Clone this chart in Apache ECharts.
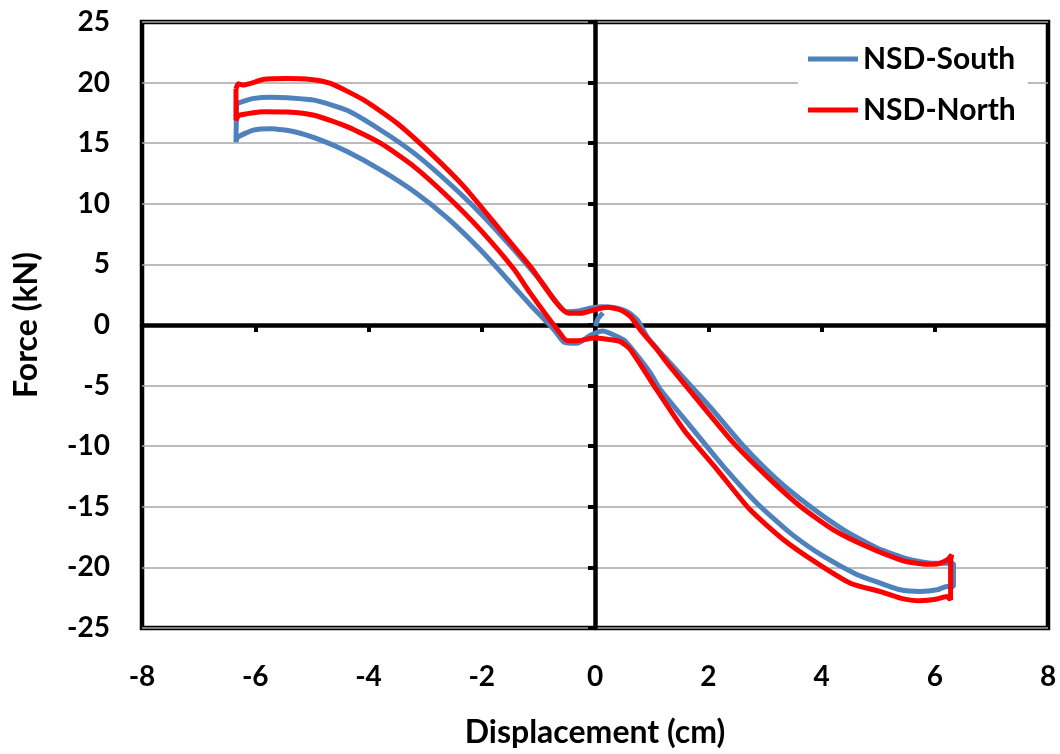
<!DOCTYPE html>
<html>
<head>
<meta charset="utf-8">
<script src="https://cdn.jsdelivr.net/npm/echarts@6/dist/echarts.min.js"></script>
<style>
  html, body { margin: 0; padding: 0; background: #fff; }
  #chart { width: 1060px; height: 754px; }
</style>
</head>
<body>
<div id="chart"></div>
<script>
// ---- data ----
const xTicks = [-8, -6, -4, -2, 0, 2, 4, 6, 8];
const yTicks = [-25, -20, -15, -10, -5, 0, 5, 10, 15, 20, 25];
const seriesNames = ['NSD-South', 'NSD-North'];

// NSD-South loop: upper branch left->right, right edge down, lower branch right->left, close
const southLoop = [
  [-6.33, 18.2], [-6.28, 18.35], [-6.02, 18.7], [-5.72, 18.8], [-5.43, 18.75], [-4.96, 18.55],
  [-4.37, 17.7], [-3.78, 16.07], [-3.19, 14.16], [-2.60, 11.8], [-2.02, 9.2], [-1.43, 6.2],
  [-0.95, 3.6], [-0.5, 1.1], [-0.3, 1.15], [-0.11, 1.37], [0.1, 1.5], [0.33, 1.45],
  [0.57, 1.1], [0.75, 0.4], [0.92, -0.96], [1.22, -2.6], [1.63, -4.7], [2.04, -6.8],
  [2.63, -10.03], [3.22, -12.78], [3.80, -14.98], [4.39, -16.9], [4.98, -18.4], [5.57, -19.37],
  [5.98, -19.65], [6.27, -19.65], [6.33, -19.65],
  [6.33, -21.6], [6.21, -21.57], [6.04, -21.85], [5.74, -21.98], [5.39, -21.85], [5.04, -21.3],
  [4.63, -20.6], [4.04, -19.1], [3.45, -17.17], [2.86, -14.7], [2.27, -11.68], [1.69, -8.38],
  [1.16, -5.36], [0.98, -3.98], [0.69, -2.2], [0.51, -1.24], [0.33, -0.82], [0.14, -0.5],
  [-0.08, -0.85], [-0.31, -1.5], [-0.55, -1.4], [-0.72, -0.41], [-1.14, 1.65], [-1.43, 3.16],
  [-2.02, 6.18], [-2.60, 8.80], [-3.19, 10.99], [-3.78, 12.78], [-4.37, 14.29], [-4.84, 15.25],
  [-5.31, 15.94], [-5.72, 16.2], [-6.02, 16.1], [-6.31, 15.5], [-6.34, 15.1], [-6.33, 18.2],
  ['-', '-'], [0.01, -0.1], [0.05, 0.5], [0.14, 1.0]
];

// NSD-North loop
const northLoop = [
  [-6.34, 19.5], [-6.3, 19.9], [-6.22, 19.8], [-5.84, 20.28], [-5.43, 20.34], [-5.02, 20.26],
  [-4.67, 19.93], [-4.08, 18.55], [-3.49, 16.63], [-2.90, 14.16], [-2.31, 11.40], [-1.72, 8.10],
  [-1.14, 4.81], [-0.46, 0.96], [-0.25, 0.96], [-0.02, 1.24], [0.22, 1.46], [0.45, 1.24],
  [0.63, 0.69], [0.80, -0.41], [1.10, -2.06], [1.28, -3.16], [1.86, -6.46], [2.45, -9.75],
  [3.04, -12.51], [3.63, -14.98], [4.21, -16.9], [4.80, -18.28], [5.39, -19.37], [5.68, -19.65],
  [5.98, -19.75], [6.10, -19.65], [6.24, -19.3], [6.30, -18.96],
  [6.28, -19.5], [6.28, -22.67], [6.21, -22.4], [6.04, -22.61], [5.74, -22.75], [5.39, -22.53],
  [5.04, -22.0], [4.51, -21.3], [3.92, -19.65], [3.33, -17.72], [2.74, -15.25], [2.16, -11.95],
  [1.57, -8.66], [1.04, -5.0], [0.63, -2.06], [0.45, -1.37], [0.22, -1.18], [-0.02, -1.08],
  [-0.3, -1.3], [-0.49, -1.3], [-0.66, -0.41], [-1.14, 2.61], [-1.43, 4.6], [-2.02, 7.83],
  [-2.60, 10.58], [-3.19, 13.05], [-3.78, 14.98], [-4.37, 16.35], [-4.96, 17.31], [-5.43, 17.58],
  [-5.84, 17.6], [-6.28, 17.31], [-6.34, 16.9], [-6.34, 19.5]
];

const FONT = 'Lato';
const chart = echarts.init(document.getElementById('chart'));
chart.setOption({
  backgroundColor: '#fff',
  animation: false,
  grid: {
    left: 142, right: 12, top: 22, bottom: 126,
    show: true, borderColor: '#000', borderWidth: 4.5, backgroundColor: 'transparent'
  },
  legend: {
    orient: 'vertical',
    left: 798, top: 38,
    padding: [6, 12, 6, 10],
    backgroundColor: '#fff',
    icon: 'rect',
    itemWidth: 50, itemHeight: 5, itemGap: 21,
    data: seriesNames,
    textStyle: { fontFamily: FONT, fontWeight: 'bold', fontSize: 30, color: '#000', lineHeight: 30 }
  },
  xAxis: [
    {
      type: 'value', min: xTicks[0], max: xTicks[xTicks.length - 1], interval: 2,
      axisLine: { show: true, onZero: true, lineStyle: { color: '#000', width: 4.5 } },
      axisTick: { show: true, inside: false, length: 7, lineStyle: { color: '#000', width: 4 } },
      axisLabel: { show: false }, splitLine: { show: false }
    },
    {
      type: 'value', position: 'bottom', min: xTicks[0], max: xTicks[xTicks.length - 1], interval: 2,
      axisLine: { show: false, onZero: false }, axisTick: { show: false }, splitLine: { show: false },
      axisLabel: { show: true, margin: 35, fontFamily: FONT, fontWeight: 'bold', fontSize: 28, color: '#000' },
      name: 'Displacement (cm)', nameLocation: 'middle', nameGap: 89,
      nameTextStyle: { fontFamily: FONT, fontWeight: 'bold', fontSize: 32, color: '#000' }
    }
  ],
  yAxis: [
    {
      type: 'value', min: yTicks[0], max: yTicks[yTicks.length - 1], interval: 5,
      axisLine: { show: true, onZero: true, lineStyle: { color: '#000', width: 4.5 } },
      axisTick: { show: true, inside: false, length: 7, lineStyle: { color: '#000', width: 4 } },
      axisLabel: { show: false }, splitLine: { show: false }
    },
    {
      type: 'value', position: 'left', min: yTicks[0], max: yTicks[yTicks.length - 1], interval: 5,
      axisLine: { show: false, onZero: false }, axisTick: { show: false },
      splitLine: { show: true, lineStyle: { color: '#A6A6A6', width: 1.5 } },
      axisLabel: { show: true, margin: 32, fontFamily: FONT, fontWeight: 'bold', fontSize: 28, color: '#000' },
      name: 'Force (kN)', nameLocation: 'middle', nameGap: 99, nameRotate: 90,
      nameTextStyle: { fontFamily: FONT, fontWeight: 'bold', fontSize: 32, color: '#000' }
    }
  ],
  series: [
    {
      name: seriesNames[0], type: 'line', xAxisIndex: 0, yAxisIndex: 0,
      data: southLoop, showSymbol: false, symbol: 'none', smooth: 0.2, connectNulls: false,
      lineStyle: { color: '#4F81BD', width: 5 }, itemStyle: { color: '#4F81BD' }, z: 3
    },
    {
      name: seriesNames[1], type: 'line', xAxisIndex: 0, yAxisIndex: 0,
      data: northLoop, showSymbol: false, symbol: 'none', smooth: 0.2,
      lineStyle: { color: '#FF0000', width: 5 }, itemStyle: { color: '#FF0000' }, z: 4
    }
  ]
});
</script>
</body>
</html>
